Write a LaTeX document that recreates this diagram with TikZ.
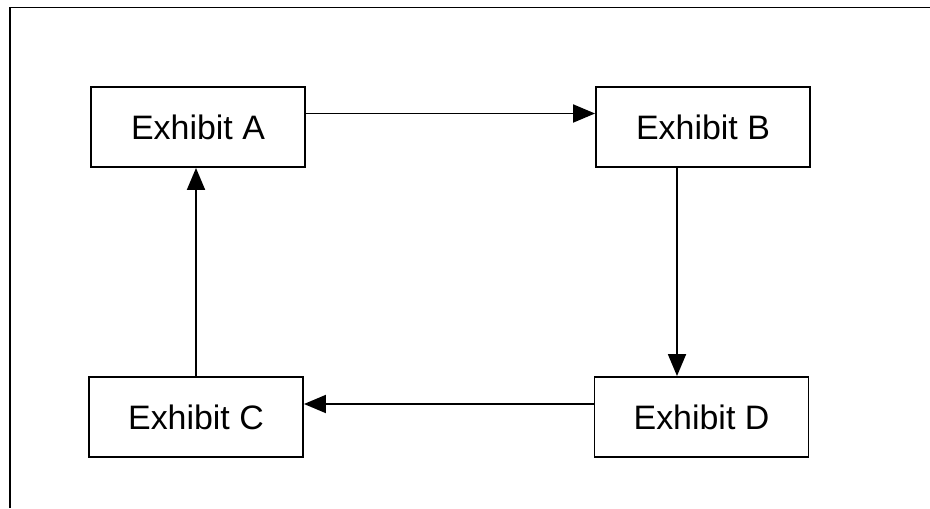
\documentclass[tikz,border=0pt]{standalone}
\usepackage{fontspec}
\setmainfont{Liberation Sans}
\usetikzlibrary{arrows.meta}

\begin{document}
\begin{tikzpicture}[>={Triangle[length=4.4mm,width=3.6mm]},line width=1.1pt,
                    exhibit/.style={draw,minimum width=4.28cm,minimum height=1.6cm,
                    font=\fontsize{19.3}{23}\selectfont}]
                  \useasboundingbox (0,0) rectangle (18.6,10.16);
                  \draw (0.2,0)--(0.2,10.01)--(18.6,10.01);
                  \node[exhibit] (A) at (3.96,7.62){Exhibit A};
                  \node[exhibit] (B) at (14.06,7.62){Exhibit B};
                  \node[exhibit] (C) at (3.92,1.82){Exhibit C};
                  \node[exhibit] (D) at (14.03,1.82){Exhibit D};
                  \draw[->]([yshift=0.27cm]A.east)--([yshift=0.27cm]B.west);
                  \draw[->]([xshift=-0.52cm]B.south)--([xshift=-0.52cm]B.south |- D.north);
                  \draw[->]([yshift=0.26cm]D.west)--([yshift=0.26cm]C.east);
                  \draw[->](C.north)--(C.north |- A.south);
              \end{tikzpicture}
\end{document}
